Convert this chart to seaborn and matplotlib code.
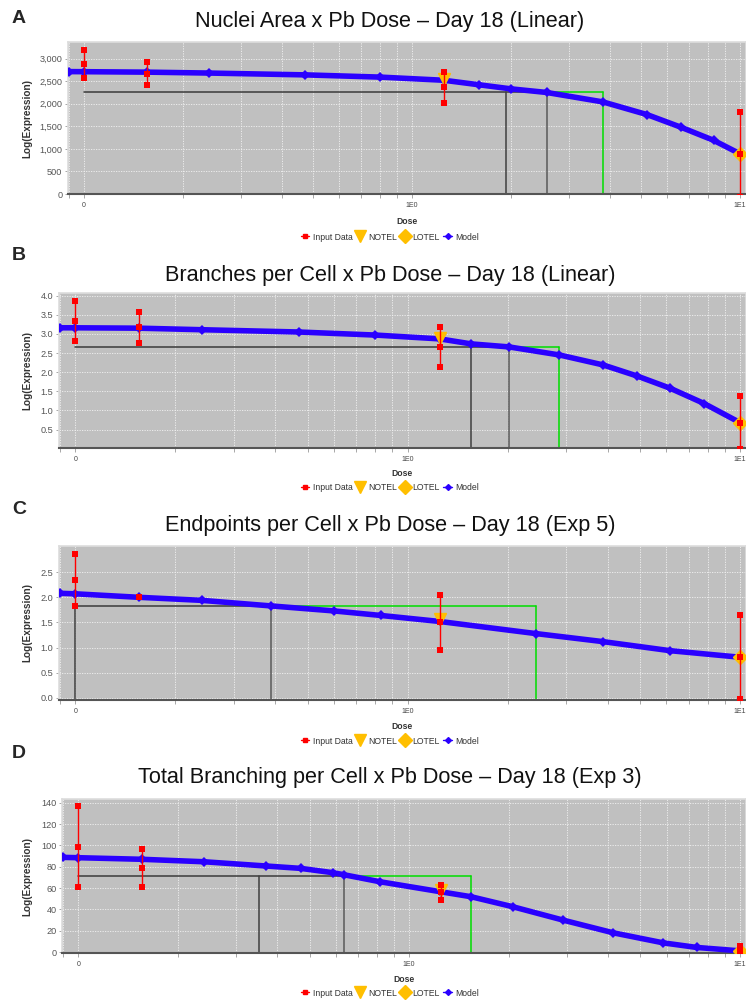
import numpy as np
import matplotlib
matplotlib.use("Agg")
import matplotlib.pyplot as plt
from matplotlib.lines import Line2D
from matplotlib.ticker import FixedLocator, LogLocator, NullFormatter, FuncFormatter
import seaborn as sns

W, H = 746, 1001

# dose groups (control drawn at 0.1 on the log axis, labelled "0")
doses = [0.1, 0.156, 1.25, 10]

# ---- A: Nuclei Area (Linear)
a_mean = [2880, 2670, 2362, 880]
a_sd = [320, 255, 336, 937]
a_model_x = [0.09, 0.1, 0.156, 0.24, 0.47, 0.8, 1.25, 1.6, 2.0, 2.57, 3.82, 5.2, 6.6, 8.3, 10]
a_model_y = [2712, 2710, 2700, 2680, 2640, 2590, 2520, 2420, 2330, 2250, 2040, 1760, 1480, 1190, 890]
a_bmr, a_bmdl, a_bmd, a_bmdu = 2254, 1.94, 2.57, 3.82
a_notel, a_lotel = 2540, 880

# ---- B: Branches per Cell (Linear)
b_mean = [3.34, 3.17, 2.66, 0.68]
b_sd = [0.52, 0.41, 0.52, 0.70]
b_model_x = [0.09, 0.1, 0.156, 0.24, 0.47, 0.8, 1.25, 1.55, 2.02, 2.86, 3.87, 4.9, 6.16, 7.8, 10]
b_model_y = [3.16, 3.16, 3.15, 3.11, 3.05, 2.97, 2.87, 2.74, 2.66, 2.45, 2.19, 1.90, 1.58, 1.18, 0.68]
b_bmr, b_bmdl, b_bmd, b_bmdu = 2.67, 1.55, 2.02, 2.86
b_notel, b_lotel = 2.89, 0.68

# ---- C: Endpoints per Cell (Exp 5)
c_mean = [2.34, 2.0, 1.50, 0.81]
c_sd = [0.52, 0.0, 0.54, 0.83]
c_model_x = [0.09, 0.1, 0.156, 0.24, 0.387, 0.6, 0.83, 1.25, 2.43, 3.87, 6.16, 10]
c_model_y = [2.08, 2.07, 2.0, 1.94, 1.83, 1.73, 1.64, 1.52, 1.28, 1.12, 0.94, 0.81]
c_bmr, c_bmdl, c_bmd, c_bmdu = 1.83, 0.1, 0.387, 2.43
c_notel, c_lotel = 1.56, 0.81

# ---- D: Total Branching per Cell (Exp 3)
d_mean = [98.8, 78.8, 56.3, 2.5]
d_sd = [38.0, 18.0, 7.0, 3.1]
d_model_x = [0.09, 0.1, 0.156, 0.24, 0.37, 0.47, 0.59, 0.636, 0.815, 1.25, 1.54, 2.06, 2.92, 4.14, 5.86, 7.4, 10]
d_model_y = [88.8, 88.5, 87.0, 84.7, 80.7, 78.5, 74.4, 72.5, 66.0, 56.5, 51.9, 42.5, 30.0, 18.1, 8.7, 4.4, 1.2]
d_bmr, d_bmdl, d_bmd, d_bmdu = 71.6, 0.352, 0.636, 1.54
d_notel, d_lotel = 58.0, 1.2

titles = ["Nuclei Area x Pb Dose \u2013 Day 18 (Linear)",
          "Branches per Cell x Pb Dose \u2013 Day 18 (Linear)",
          "Endpoints per Cell x Pb Dose \u2013 Day 18 (Exp 5)",
          "Total Branching per Cell x Pb Dose \u2013 Day 18 (Exp 3)"]
letters = ["A", "B", "C", "D"]
legend_labels = ["Input Data", "NOTEL", "LOTEL", "Model"]

RED = "#ff0000"
BLUE = "#2a00ff"
GOLD = "#ffbf00"
GREEN = "#00dd00"
BG = "#c0c0c0"

sns.set_style("white")
plt.rcParams["font.family"] = ["Liberation Sans", "DejaVu Sans"]

# layout in pixels: left, top, bottom of plot area, ylim, yticks, title y, letter y, dose y, legend y
panels = [
    dict(mean=a_mean, sd=a_sd, mx=a_model_x, my=a_model_y, bmr=a_bmr, bmdl=a_bmdl, bmd=a_bmd, bmdu=a_bmdu,
         notel=a_notel, lotel=a_lotel, left=68, top=42, bottom=194, ylim=(0, 3368),
         yticks=np.arange(0, 3001, 500), fmt="{:,.0f}", ty=22, ly=18, dy=217, gy=237),
    dict(mean=b_mean, sd=b_sd, mx=b_model_x, my=b_model_y, bmr=b_bmr, bmdl=b_bmdl, bmd=b_bmd, bmdu=b_bmdu,
         notel=b_notel, lotel=b_lotel, left=59, top=293, bottom=447.5, ylim=(0.03, 4.07),
         yticks=np.arange(0.5, 4.01, 0.5), fmt="{:.1f}", ty=275, ly=256, dy=469, gy=488),
    dict(mean=c_mean, sd=c_sd, mx=c_model_x, my=c_model_y, bmr=c_bmr, bmdl=c_bmdl, bmd=c_bmd, bmdu=c_bmdu,
         notel=c_notel, lotel=c_lotel, left=59, top=546, bottom=700, ylim=(-0.04, 3.02),
         yticks=np.arange(0, 2.51, 0.5), fmt="{:.1f}", ty=526, ly=510, dy=722, gy=741),
    dict(mean=d_mean, sd=d_sd, mx=d_model_x, my=d_model_y, bmr=d_bmr, bmdl=d_bmdl, bmd=d_bmd, bmdu=d_bmdu,
         notel=d_notel, lotel=d_lotel, left=62, top=799, bottom=953, ylim=(-0.8, 143.5),
         yticks=np.arange(0, 141, 20), fmt="{:.0f}", ty=778, ly=754, dy=975, gy=993),
]

fig = plt.figure(figsize=(W / 100, H / 100), dpi=100)
xlim = (10 ** -1.049, 10 ** 1.018)

handles = [
    Line2D([0], [0], color=RED, lw=1, marker="s", ms=3.5),
    Line2D([0], [0], ls="", marker="v", color=GOLD, ms=9),
    Line2D([0], [0], ls="", marker="D", color=GOLD, ms=7),
    Line2D([0], [0], color=BLUE, lw=1, marker="D", ms=3),
]

for i, p in enumerate(panels):
    ax = fig.add_axes([p["left"] / W, 1 - p["bottom"] / H, (W - p["left"]) / W, (p["bottom"] - p["top"]) / H])
    ax.set_facecolor(BG)
    ax.set_xscale("log")
    ax.set_xlim(*xlim)
    ax.set_ylim(*p["ylim"])

    # grid
    ax.xaxis.set_major_locator(FixedLocator([0.1, 1, 10]))
    ax.xaxis.set_major_formatter(FuncFormatter(lambda v, pos: {0.1: "0", 1: "1E0", 10: "1E1"}.get(round(v, 3), "")))
    ax.xaxis.set_minor_locator(LogLocator(base=10, subs=np.arange(2, 10)))
    ax.xaxis.set_minor_formatter(NullFormatter())
    ax.set_yticks(p["yticks"])
    ax.set_yticklabels([p["fmt"].format(v) for v in p["yticks"]])
    ax.grid(True, which="major", axis="both", color="#f2f2f2", ls=(0, (1.5, 1.5)), lw=0.6)
    ax.grid(True, which="minor", axis="x", color="#f2f2f2", ls=(0, (1.5, 1.5)), lw=0.6)
    ax.set_axisbelow(True)
    ax.tick_params(axis="x", which="both", length=3, width=0.6, color="#999999", labelsize=5,
                   labelcolor="#444444", pad=3, bottom=True)
    ax.tick_params(axis="y", length=2, width=0.6, color="#999999", labelsize=6.6,
                   labelcolor="#555555", pad=2, left=True)
    for s in ["top", "right", "left"]:
        ax.spines[s].set_color("#dddddd")
        ax.spines[s].set_linewidth(1.2)
    ax.spines["bottom"].set_color("#555555")
    ax.spines["bottom"].set_linewidth(1.5)

    # BMD lines
    x0 = doses[0]
    ax.plot([x0, p["bmd"]], [p["bmr"], p["bmr"]], color="#3a3a3a", lw=1.1, zorder=2)
    ax.plot([p["bmd"], p["bmdu"]], [p["bmr"], p["bmr"]], color=GREEN, lw=1.1, zorder=2)
    ax.plot([p["bmdu"], p["bmdu"]], [p["ylim"][0], p["bmr"]], color=GREEN, lw=1.1, zorder=2)
    ax.plot([p["bmdl"], p["bmdl"]], [p["ylim"][0], p["bmr"]], color="#404040", lw=1.1, zorder=2)
    ax.plot([p["bmd"], p["bmd"]], [p["ylim"][0], p["bmr"]], color="#5a5a5a", lw=1.1, zorder=2)

    # model
    sns.lineplot(x=p["mx"], y=p["my"], ax=ax, color=BLUE, lw=4.0, estimator=None, sort=False,
                 marker="D", markersize=5.5, markeredgewidth=0, zorder=3)

    # NOTEL / LOTEL
    ax.plot([doses[2]], [p["notel"]], ls="", marker="v", ms=9, color=GOLD, zorder=4)
    ax.plot([doses[3]], [p["lotel"]], ls="", marker="D", ms=7, color=GOLD, zorder=4)

    # input data: mean +/- sd
    mean = np.array(p["mean"])
    sd = np.array(p["sd"])
    ax.vlines(doses, mean - sd, mean + sd, color=RED, lw=1, zorder=5)
    px = np.concatenate([doses, doses, doses])
    py = np.concatenate([mean - sd, mean, mean + sd])
    sns.scatterplot(x=px, y=py, ax=ax, marker="s", s=15, color=RED, linewidth=0, zorder=6)

    ax.set_ylabel("Log(Expression)", fontsize=7.2, fontweight="bold", color="#333333")
    ax.yaxis.set_label_coords(32 / W, 1 - (p["top"] + p["bottom"]) / 2 / H, transform=fig.transFigure)
    ax.set_xlabel("Dose", fontsize=6.2, fontweight="bold", color="#333333")
    ax.xaxis.set_label_coords((p["left"] + W) / 2 / W, 1 - p["dy"] / H, transform=fig.transFigure)

    fig.text(390 / W, 1 - p["ty"] / H, titles[i], fontsize=15.6, ha="center", va="center", color="#111111")
    fig.text(19 / W, 1 - p["ly"] / H, letters[i], fontsize=14, fontweight="bold", ha="center", va="center")
    fig.legend(handles, legend_labels, loc="center", bbox_to_anchor=(390 / W, 1 - p["gy"] / H), ncol=4,
               frameon=False, fontsize=6.2, handlelength=1.0, handletextpad=0.4, columnspacing=0.4,
               labelcolor="#333333")

fig.savefig("out.png", dpi=100)
